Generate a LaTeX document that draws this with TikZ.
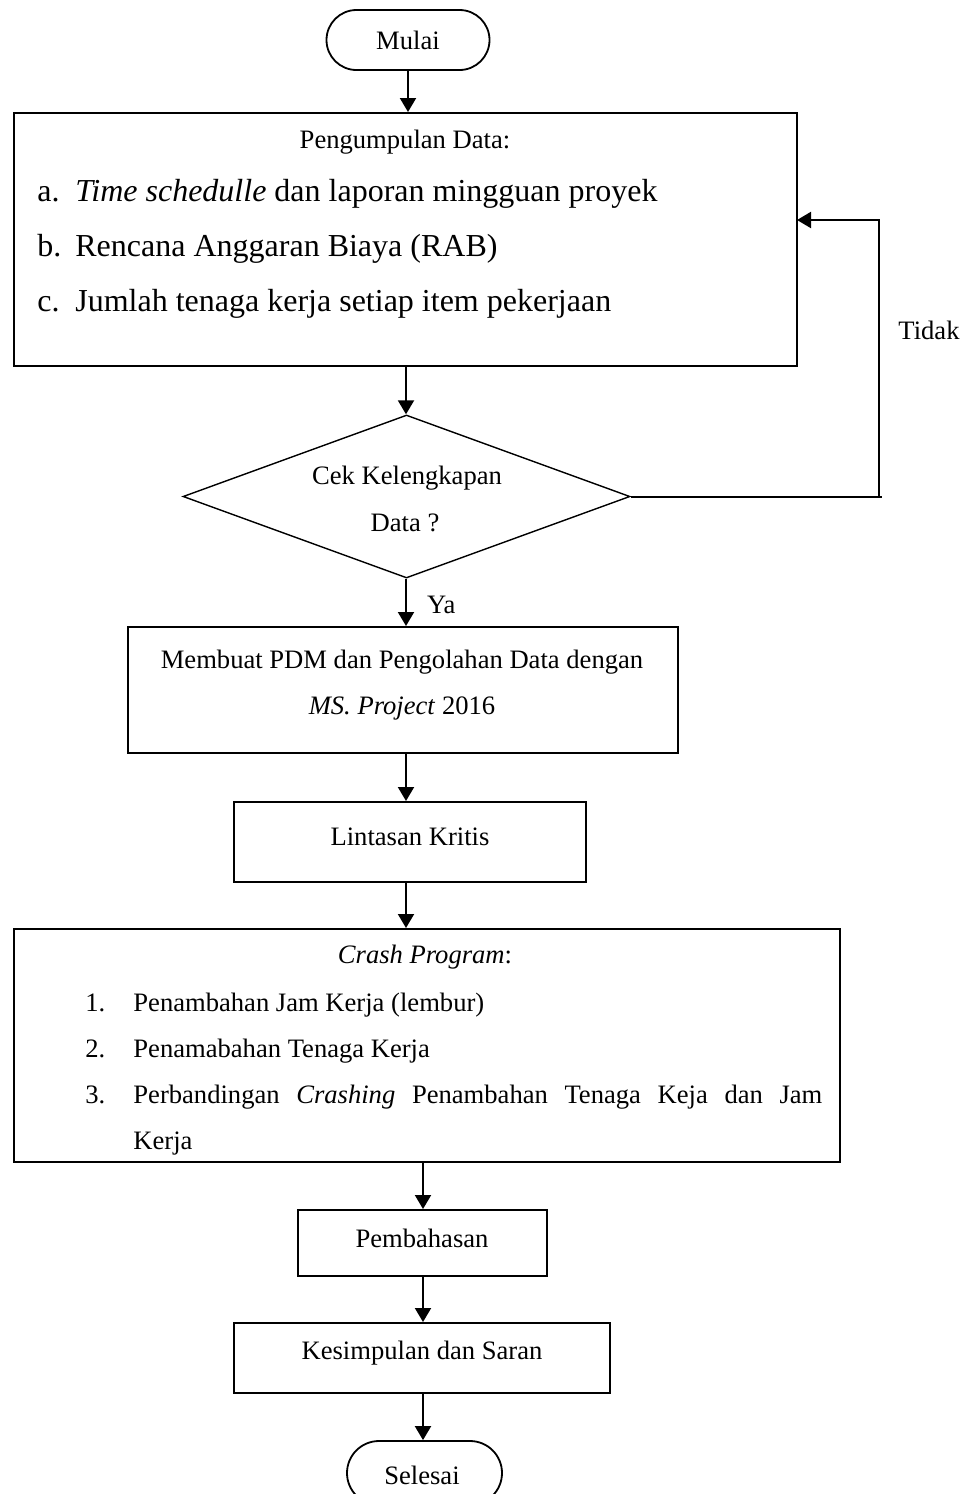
\documentclass[tikz,border=0pt]{standalone}
\usepackage{fontspec}
\setmainfont{Liberation Serif}
\usepackage{tikz}
\usetikzlibrary{shapes,calc,positioning}
\usetikzlibrary{arrows.meta}

\begin{document}
\begin{tikzpicture}[x=0.5pt,y=-0.5pt,
    every node/.style={font=\fontsize{13.3}{16}\selectfont},
    big/.style={font=\fontsize{16}{19}\selectfont},
    kotak/.style={draw,line width=1pt,inner sep=0pt},
    terminal/.style={draw,line width=0.9pt,rounded corners=15pt,minimum width=81.5pt,minimum height=30pt,inner sep=0pt},
    keputusan/.style={draw,diamond,line width=0.7pt,inner sep=0pt},
    isi/.style={anchor=west,inner sep=0pt,text height=1.6ex,text depth=0.5ex},
    panah/.style={line width=1pt,-{Triangle[length=7pt,width=8pt]}}]
        % Frame
        \clip (0,0) rectangle (970,1494);
        \fill[white] (0,0) rectangle (970,1494);
        % Start
        \node[terminal] (mulai) at (408,40) {Mulai};
        % Data collection
        \node[kotak,minimum width=391.5pt,minimum height=126.5pt] (data) at (405.5,239.5) {};
        \node (judul) at (405,142) {Pengumpulan Data:};
        \node[big,isi] (la) at (37,196) {a.};
        \node[big,isi] (ta) at (75,196) {\textit{Time schedulle} dan laporan mingguan proyek};
        \node[big,isi] (lb) at (37,251) {b.};
        \node[big,isi] (tb) at (75,251) {Rencana Anggaran Biaya (RAB)};
        \node[big,isi] (lc) at (37,306) {c.};
        \node[big,isi] (tc) at (75,306) {Jumlah tenaga kerja setiap item pekerjaan};
        % Check
        \node[keputusan,minimum width=223.5pt,minimum height=81.5pt] (cek) at (406.5,496.5) {};
        \node (cek1) at (407,478) {Cek Kelengkapan};
        \node (cek2) at (405,523) {Data ?};
        % Processing
        \node[kotak,minimum width=275pt,minimum height=63pt] (olah) at (403,690) {};
        \node (olah1) at (402,662) {Membuat PDM dan Pengolahan Data dengan};
        \node (olah2) at (402,708) {\textit{MS. Project} 2016};
        \node[kotak,minimum width=176pt,minimum height=40pt] (kritis) at (410,842) {};
        \node (kritis1) at (410,837) {Lintasan Kritis};
        % Crash program
        \node[kotak,minimum width=413pt,minimum height=116.5pt] (crash) at (427,1045.5) {};
        \node (crash0) at (425,957) {\textit{Crash Program}:};
        \node[isi] (n1) at (85,1006) {1.};
        \node[isi] (c1) at (133,1006) {Penambahan Jam Kerja (lembur)};
        \node[isi] (n2) at (85,1052) {2.};
        \node[isi] (c2) at (133,1052) {Penamabahan Tenaga Kerja};
        \node[isi] (n3) at (85,1098) {3.};
        \node[isi] (c3) at (133,1098) {\makebox[344.5pt][s]{Perbandingan \textit{Crashing} Penambahan Tenaga Keja dan Jam}};
        \node[isi] (c4) at (133,1144) {Kerja};
        % Discussion and end
        \node[kotak,minimum width=124.5pt,minimum height=33pt] (bahas) at (422.5,1243) {};
        \node (bahas1) at (422,1238) {Pembahasan};
        \node[kotak,minimum width=188pt,minimum height=35pt] (simpul) at (422,1358) {};
        \node (simpul1) at (422,1353) {Kesimpulan dan Saran};
        \node[terminal,minimum width=77.5pt,minimum height=32pt,rounded corners=16pt] (selesai) at (424.5,1473) {};
        \node (selesai1) at (422,1475) {Selesai};
        % Connectors
        \coordinate (x1) at (406,0);
        \coordinate (x2) at (423,0);
        \draw[panah] (mulai.south) -- (mulai.south |- data.north);
        \draw[panah] (data.south -| x1) -- (cek.north -| x1);
        \draw[panah] (cek.south -| x1) -- (olah.north -| x1);
        \node[anchor=west] (ya) at (420,605) {Ya};
        \draw[panah] (olah.south -| x1) -- (kritis.north -| x1);
        \draw[panah] (kritis.south -| x1) -- (crash.north -| x1);
        \draw[panah] (crash.south -| x2) -- (bahas.north -| x2);
        \draw[panah] (bahas.south -| x2) -- (simpul.north -| x2);
        \draw[panah] (simpul.south -| x2) -- (selesai.north -| x2);
        % Loop back
        \coordinate (balik) at (879,220);
        \coordinate (masuk) at (797,220);
        \draw[line width=1pt] (cek.east) -- (882,496.5);
        \draw[panah] (cek.east -| balik) -- (balik) -- (masuk);
        \node (tidak) at (929,330) {Tidak};
\end{tikzpicture}
\end{document}
